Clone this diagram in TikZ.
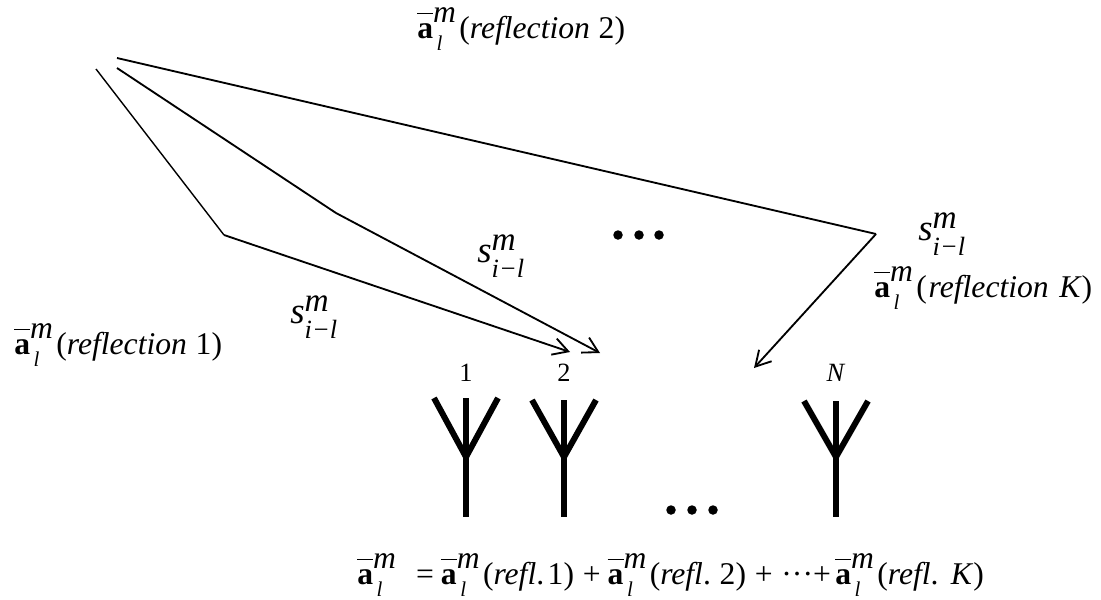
\documentclass[tikz,border=0pt]{standalone}
\usepackage{fontspec}
\setmainfont{Liberation Serif}
\usetikzlibrary{
    arrows.meta,
    positioning
}
% bold a with bar, superscript m, subscript l
\newcommand{\steervec}{%
    \rlap{\raisebox{13.4pt}{\rule{9pt}{1.1pt}}}\textbf{a}%
    \rlap{\raisebox{9pt}{\fontsize{18}{18}\selectfont\itshape m}}%
    \raisebox{-7pt}{\hspace{2pt}\fontsize{12}{12}\selectfont\itshape l}\hspace{9.6pt}}
% symbol s with superscript m, subscript i-l
\newcommand{\symb}{%
    {\fontsize{21}{22}\selectfont\itshape s}%
    \rlap{\raisebox{6.8pt}{\fontsize{19}{19}\selectfont\itshape m}}%
    \raisebox{-9pt}{\fontsize{15}{15}\selectfont\itshape i−l}}
\tikzset{
    % --- Reflected path segment ---
    ray/.style = {
        line width=1.05pt
    },
    % --- Last segment, ends at the array ---
    ray arrow/.style = {
        line width=1.05pt, -{Straight Barb[length=3mm,width=3.4mm]}
    },
    % --- Antenna strokes ---
    antenna/.style = {
        line width=3.4pt
    },
    % --- Dot of an ellipsis ---
    dot/.style = {
        circle, fill=black, minimum size=1.9mm, inner sep=0pt
    },
    % --- Formula labels ---
    formula/.style = {
        font=\fontsize{18}{20}\selectfont, inner sep=0pt, anchor=base west
    },
    % --- Antenna numbers ---
    index/.style = {
        font=\fontsize{15}{16}\selectfont, inner sep=0pt
    }
}

\begin{document}
\begin{tikzpicture}[x=0.02cm, y=-0.02cm]
\useasboundingbox (0,0) rectangle (1101,599);

% ---------------------------------------------------------
% Path end points
% ---------------------------------------------------------
\coordinate (StartA) at (96,69);
\coordinate (BendA)  at (224,235);
\coordinate (EndA)   at (570,352);
\coordinate (StartB) at (117,68);
\coordinate (BendB)  at (336,213);
\coordinate (EndB)   at (600,353);
\coordinate (StartC) at (117,58);
\coordinate (BendC)  at (876,234);
\coordinate (EndC)   at (754,368);

% ---------------------------------------------------------
% Reflections
% ---------------------------------------------------------
\draw[ray, line width=0.8pt] (StartA) -- (BendA);
\draw[ray arrow] (BendA) -- (EndA);
\draw[ray] (StartB) -- (BendB);
\draw[ray arrow] (BendB) -- (EndB);
\draw[ray] (StartC) -- (BendC);
\draw[ray arrow] (BendC) -- (EndC);

% ---------------------------------------------------------
% Labels
% ---------------------------------------------------------
\node[formula] (LabTwo)  at (417,38)  {\steervec(\textit{reflection}\hspace{5pt}2)};
\node[formula] (LabOne)  at (14,354)  {\steervec(\textit{reflection}\hspace{5pt}1)};
\node[formula] (LabK)    at (874,297) {\steervec(\hspace{1pt}\textit{reflection}\hspace{6pt}\textit{K})};
\node[formula] (SymOne)  at (290,323) {\symb};
\node[formula] (SymTwo)  at (477,262) {\symb};
\node[formula] (SymK)    at (918,240) {\symb};
\node[formula] (Sum)     at (357,584) {\steervec\hspace{9.5pt}=\hspace{4pt}\steervec(\textit{refl}.\hspace{2pt}1)\hspace{5pt}+\hspace{4pt}\steervec(\textit{refl}.\hspace{5pt}2)\hspace{5pt}+\hspace{5pt}\textperiodcentered\textperiodcentered\textperiodcentered+\hspace{2.5pt}\steervec(\textit{refl}.\hspace{7pt}\textit{K})};

% ---------------------------------------------------------
% Antennas
% ---------------------------------------------------------
\foreach \name/\px/\ptop/\ptext in {One/466/398/1, Two/564/400/2, Last/836/401/\textit{N}} {
    \node[index] (Num\name) at (\px,373) {\ptext};
    \coordinate (Top\name)   at (\px,\ptop);
    \coordinate (Joint\name) at (\px,457);
    \coordinate (Foot\name)  at (\px,517);
    \coordinate (Left\name)  at (\px-32,\ptop);
    \coordinate (Right\name) at (\px+32,\ptop);
    \draw[antenna] (Top\name) -- (Foot\name);
    \draw[antenna] (Left\name) -- (Joint\name) -- (Right\name);
}

% ---------------------------------------------------------
% Ellipsis dots
% ---------------------------------------------------------
\foreach \px in {618,639,659} {
    \node[dot] (UpDot\px) at (\px,235) {};
}
\foreach \px in {671,692,713} {
    \node[dot] (LowDot\px) at (\px,510) {};
}

\end{tikzpicture}
\end{document}
